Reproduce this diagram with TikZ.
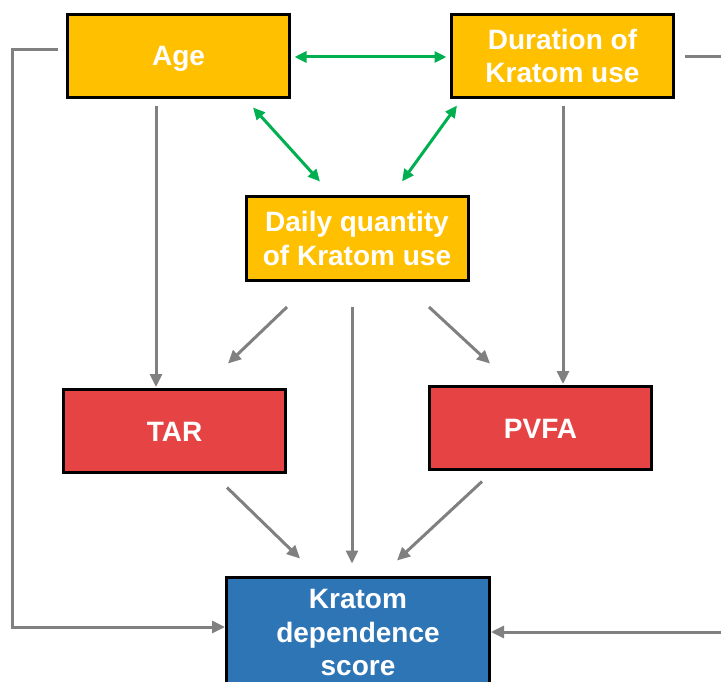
\documentclass[tikz,border=0pt]{standalone}
\usepackage{fontspec}
\setmainfont{Liberation Sans}
\usetikzlibrary{arrows.meta,calc}
\definecolor{boxyellow}{HTML}{FFC000}
\definecolor{boxred}{HTML}{E64444}
\definecolor{boxblue}{HTML}{2E75B6}
\definecolor{linkgray}{HTML}{808080}
\definecolor{linkgreen}{HTML}{00B050}
\begin{document}
\begin{tikzpicture}[x=1pt,y=-1pt,
  box/.style={draw=black,line width=3pt,minimum width=222pt,minimum height=83pt,
    inner sep=0pt,align=center,text=white,
    font=\fontsize{28}{33.5}\selectfont\bfseries},
  oneline/.style={text height=20pt,text depth=0pt},
  ybox/.style={box,fill=boxyellow},
  rbox/.style={box,fill=boxred},
  bbox/.style={box,fill=boxblue,minimum width=263pt,minimum height=111pt},
  garr/.style={draw=linkgray,line width=3pt,-{Triangle[length=13pt,width=12pt]}},
  gline/.style={draw=linkgray,line width=3pt},
  grn/.style={draw=linkgreen,line width=3pt,
    {Triangle[length=12pt,width=11pt]}-{Triangle[length=12pt,width=11pt]}}]
\useasboundingbox (0,0) rectangle (721,682);
\clip (0,0) rectangle (721,682);

% boxes
\node[ybox,oneline] (age) at (178.5,56)  {Age};
\node[ybox] (dur)   at (562.5,56)  {Duration of\\Kratom use};
\node[ybox] (daily) at (357,238.5) {Daily quantity\\of Kratom use};
\node[rbox,oneline] (tar)  at (174.5,431) {TAR};
\node[rbox,oneline] (pvfa) at (540.5,428) {PVFA};
\node[bbox] (kds)   at (358,633)   {Kratom\\dependence\\score};

% correlations between the predictors
\draw[grn] ($(age.east)+(3.5,1)$) -- ($(dur.west)+(-3.5,1)$);
\draw[grn] ($(age.south)+(74.5,8.5)$) -- ($(daily.north)+(-37,-14)$);
\draw[grn] ($(dur.south)+(-105.5,6.5)$) -- ($(daily.north)+(45,-14)$);

% paths into the mediators
\draw[garr] ($(age.south)+(-22.5,7.5)$) -- ($(tar.north)+(-18.5,-1)$);
\draw[garr] ($(dur.south)+(0.5,7.5)$) -- ($(pvfa.north)+(22.5,-1)$);
\draw[garr] ($(daily.south)+(-70,25.5)$) -- ($(tar.north)+(53.5,-24.5)$);
\draw[garr] ($(daily.south)+(72,25.5)$) -- ($(pvfa.north)+(-50.5,-21.5)$);

% paths into the outcome
\draw[garr] ($(daily.south)+(-5,25.5)$) -- ($(kds.north)+(-6,-12.5)$);
\draw[garr] ($(tar.south)+(52.5,13.5)$) -- ($(kds.north)+(-58,-17.5)$);
\draw[garr] ($(pvfa.south)+(-58.5,10.5)$) -- ($(kds.north)+(39,-15.5)$);

% direct paths from age and duration
\coordinate (lcorner) at (12,50);
\draw[garr] ($(age.west)+(-8,-6)$) -- (lcorner) |- ($(kds.west)+(0,-6)$);
\coordinate (rcorner) at (740,57);
\draw[gline] ($(dur.east)+(10,1)$) -- (rcorner);
\draw[garr] (rcorner) |- ($(kds.east)+(0,-1)$);
\end{tikzpicture}
\end{document}
